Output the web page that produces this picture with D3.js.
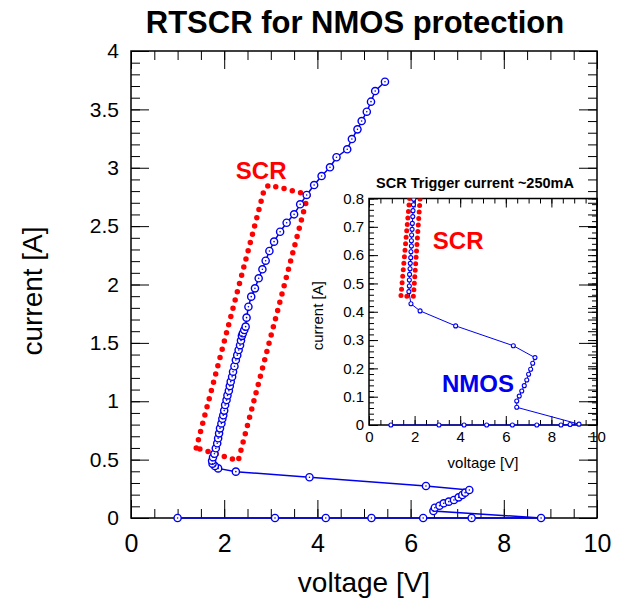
<!DOCTYPE html>
<html>
<head>
<meta charset="utf-8">
<script src="https://cdn.jsdelivr.net/npm/d3@7"></script>
<style>
body { margin: 0; background: #fff; }
text { font-family: "Liberation Sans", Arial, sans-serif; }
</style>
</head>
<body>
<div id="chart"></div>
<script>
// main TLP curve (voltage [V], current [A]), in measurement order
var mainV = [1.00, 3.09, 4.18, 5.16, 6.27, 7.31, 8.80,
	6.49, 6.52, 6.62, 6.71, 6.82, 6.93, 7.03, 7.11, 7.17, 7.26,
	6.33, 3.83, 2.25, 1.87, 1.80, 1.75, 1.74, 1.76, 1.79,
	1.82, 1.85, 1.87, 1.89, 1.91, 1.94, 1.96, 1.98, 2.00, 2.02, 2.05, 2.07, 2.10, 2.12,
	2.14, 2.17, 2.19, 2.22, 2.25, 2.28, 2.31, 2.34, 2.36, 2.38, 2.40, 2.43, 2.46,
	2.48, 2.52, 2.58, 2.66, 2.74, 2.82, 2.89, 2.97, 3.07, 3.20, 3.34, 3.50, 3.63, 3.77, 3.93, 4.09,
	4.27, 4.41, 4.64, 4.74, 4.86, 4.95, 5.06, 5.15, 5.24, 5.45];
var mainI = [0, 0, 0, 0, 0, 0, 0,
	0.060, 0.088, 0.105, 0.126, 0.140, 0.154, 0.177, 0.197, 0.217, 0.240,
	0.274, 0.349, 0.397, 0.425, 0.445, 0.465, 0.490, 0.520, 0.550,
	0.597, 0.640, 0.683, 0.725, 0.768, 0.810, 0.850, 0.880, 0.920, 0.968, 1.010, 1.050, 1.090, 1.130,
	1.168, 1.210, 1.253, 1.300, 1.353, 1.395, 1.439, 1.480, 1.520, 1.560, 1.582, 1.610, 1.639,
	1.716, 1.810, 1.896, 1.967, 2.053, 2.130, 2.204, 2.287, 2.367, 2.452, 2.529, 2.601, 2.687, 2.767, 2.852, 2.929,
	3.004, 3.090, 3.158, 3.246, 3.329, 3.400, 3.480, 3.566, 3.657, 3.737];

// red dotted SCR outline on main plot
var scrBoxV = [1.40, 2.85, 2.95, 3.20, 3.80, 2.30, 2.05, 1.40];
var scrBoxI = [0.60, 2.80, 2.85, 2.83, 2.77, 0.49, 0.52, 0.60];

// inset: zoom on the trigger region
var insetV = [0.96, 3.07, 4.17, 5.16, 6.29, 7.36, 8.42, 8.82, 9.21,
	6.48, 6.48, 6.59, 6.70, 6.81, 6.92, 7.00, 7.09, 7.18, 7.28,
	6.33, 3.80, 2.24, 1.84,
	1.75, 1.77, 1.77, 1.78, 1.80, 1.81, 1.83, 1.84, 1.86, 1.86, 1.87, 1.89, 1.90, 1.92, 1.93, 1.95, 1.96];
var insetI = [0, 0, 0, 0, 0, 0, 0, 0.002, 0.003,
	0.0625, 0.085, 0.102, 0.120, 0.139, 0.159, 0.179, 0.197, 0.218, 0.238,
	0.280, 0.350, 0.403, 0.428,
	0.471, 0.491, 0.512, 0.532, 0.552, 0.571, 0.591, 0.612, 0.632, 0.651, 0.671, 0.691, 0.712, 0.736, 0.757, 0.778, 0.797];

// red dotted SCR outline on inset (open at the top)
var insetBoxV = [1.78, 1.40, 1.95, 2.24];
var insetBoxI = [0.80, 0.455, 0.455, 0.80];

var mainXTicks = [0, 2, 4, 6, 8, 10];
var mainYTicks = [0, 0.5, 1, 1.5, 2, 2.5, 3, 3.5, 4];
var insetXTicks = [0, 2, 4, 6, 8, 10];
var insetYTicks = [0, 0.1, 0.2, 0.3, 0.4, 0.5, 0.6, 0.7, 0.8];

var width = 625, height = 600;
var blue = "#0000ee", red = "#ff0000";

var svg = d3.select("#chart").append("svg")
	.attr("width", width)
	.attr("height", height);

var fmt = function(d) { return String(+d.toFixed(2)); };

function frame(g, x, y, o) {
	var w = x.range()[1] - x.range()[0], h = y.range()[0] - y.range()[1];
	// minor ticks first, then major with labels
	g.append("g").attr("transform", "translate(0," + h + ")")
		.call(d3.axisBottom(x).tickValues(d3.range(x.domain()[0], x.domain()[1] + 1e-9, o.xMinor)).tickSize(-o.minorLen).tickFormat(""));
	g.append("g").call(d3.axisTop(x).tickValues(d3.range(x.domain()[0], x.domain()[1] + 1e-9, o.xMinor)).tickSize(-o.minorLen).tickFormat(""));
	g.append("g").call(d3.axisLeft(y).tickValues(d3.range(y.domain()[0], y.domain()[1] + 1e-9, o.yMinor)).tickSize(-o.minorLen).tickFormat(""));
	g.append("g").attr("transform", "translate(" + w + ",0)")
		.call(d3.axisRight(y).tickValues(d3.range(y.domain()[0], y.domain()[1] + 1e-9, o.yMinor)).tickSize(-o.minorLen).tickFormat(""));

	g.append("g").attr("class", "xl").attr("transform", "translate(0," + h + ")")
		.call(d3.axisBottom(x).tickValues(o.xTicks).tickSize(-o.majorLen).tickPadding(o.xPad).tickFormat(fmt));
	g.append("g").call(d3.axisTop(x).tickValues(o.xTicks).tickSize(-o.majorLen).tickFormat(""));
	g.append("g").attr("class", "yl")
		.call(d3.axisLeft(y).tickValues(o.yTicks).tickSize(-o.majorLen).tickPadding(o.yPad).tickFormat(fmt));
	g.append("g").attr("transform", "translate(" + w + ",0)")
		.call(d3.axisRight(y).tickValues(o.yTicks).tickSize(-o.majorLen).tickFormat(""));

	g.selectAll(".domain").remove();
	g.selectAll(".tick line").attr("stroke", "#000").attr("stroke-width", 1);
	g.selectAll(".xl text").style("font-size", o.xFont + "px").attr("fill", "#000");
	g.selectAll(".yl text").style("font-size", o.yFont + "px").attr("fill", "#000");

	g.append("rect").attr("width", w).attr("height", h)
		.attr("fill", "none").attr("stroke", "#000").attr("stroke-width", 1.5);
}

// ---------- main plot ----------
var x = d3.scaleLinear().domain([0, 10]).range([131, 597]);
var y = d3.scaleLinear().domain([0, 4]).range([518, 51]);

var gm = svg.append("g").attr("transform", "translate(" + x(0) + "," + y(4) + ")");
var xm = x.copy().range([0, x(10) - x(0)]);
var ym = y.copy().range([y(0) - y(4), 0]);

frame(gm, xm, ym, {xMinor: 0.5, yMinor: 0.1, minorLen: 9, majorLen: 18,
	xTicks: mainXTicks, yTicks: mainYTicks, xPad: 16, yPad: 12, xFont: 25, yFont: 21});

var mainPts = mainV.map(function(v, i) { return [v, mainI[i]]; });
var boxPts = scrBoxV.map(function(v, i) { return [v, scrBoxI[i]]; });

var line = d3.line().x(function(d) { return xm(d[0]); }).y(function(d) { return ym(d[1]); });

gm.append("path").datum(boxPts)
	.attr("d", line)
	.attr("fill", "none").attr("stroke", red).attr("stroke-width", 5.5)
	.attr("stroke-linecap", "round").attr("stroke-dasharray", "0 8.5");

gm.append("path").datum(mainPts)
	.attr("d", line)
	.attr("fill", "none").attr("stroke", blue).attr("stroke-width", 1.5);

gm.selectAll(".mk").data(mainPts).enter().append("circle")
	.attr("cx", function(d) { return xm(d[0]); })
	.attr("cy", function(d) { return ym(d[1]); })
	.attr("r", 3.6).attr("fill", "#fff").attr("stroke", blue).attr("stroke-width", 1.4);
gm.selectAll(".dot").data(mainPts).enter().append("circle")
	.attr("cx", function(d) { return xm(d[0]); })
	.attr("cy", function(d) { return ym(d[1]); })
	.attr("r", 0.8).attr("fill", blue);

gm.append("text").attr("x", xm(2.25)).attr("y", ym(2.9))
	.style("font-size", "24px").style("font-weight", "bold").attr("fill", red)
	.text("SCR");

// axis titles and title
svg.append("text").attr("x", 355).attr("y", 33).attr("text-anchor", "middle")
	.style("font-size", "31px").style("font-weight", "bold").text("RTSCR for NMOS protection");
svg.append("text").attr("x", (x(0) + x(10)) / 2).attr("y", 592).attr("text-anchor", "middle")
	.style("font-size", "28px").text("voltage [V]");
svg.append("text").attr("transform", "translate(42," + 291 + ") rotate(-90)").attr("text-anchor", "middle")
	.style("font-size", "28px").text("current [A]");

// ---------- inset ----------
var xi = d3.scaleLinear().domain([0, 10]).range([0, 597 - 369]);
var yi = d3.scaleLinear().domain([0, 0.8]).range([425 - 198.5, 0]);
var gi = svg.append("g").attr("transform", "translate(369,198.5)");

svg.append("defs").append("clipPath").attr("id", "clipInset")
	.append("rect").attr("x", -1).attr("y", 0).attr("width", xi.range()[1] + 2).attr("height", yi.range()[0] + 4);

frame(gi, xi, yi, {xMinor: 0.5, yMinor: 0.02, minorLen: 5, majorLen: 9,
	xTicks: insetXTicks, yTicks: insetYTicks, xPad: 6, yPad: 5, xFont: 15, yFont: 15});

var insetPts = insetV.map(function(v, i) { return [v, insetI[i]]; });
var insetBox = insetBoxV.map(function(v, i) { return [v, insetBoxI[i]]; });
var linei = d3.line().x(function(d) { return xi(d[0]); }).y(function(d) { return yi(d[1]); });

var gc = gi.append("g").attr("clip-path", "url(#clipInset)");
gc.append("path").datum(insetBox)
	.attr("d", linei)
	.attr("fill", "none").attr("stroke", red).attr("stroke-width", 5)
	.attr("stroke-linecap", "round").attr("stroke-dasharray", "0 6.5");
gc.append("path").datum(insetPts)
	.attr("d", linei)
	.attr("fill", "none").attr("stroke", blue).attr("stroke-width", 1);
gc.selectAll(".mk").data(insetPts).enter().append("circle")
	.attr("cx", function(d) { return xi(d[0]); })
	.attr("cy", function(d) { return yi(d[1]); })
	.attr("r", 2).attr("fill", "#fff").attr("stroke", blue).attr("stroke-width", 1.1);

gi.append("text").attr("x", (xi.range()[1]) / 2 - 8).attr("y", -11).attr("text-anchor", "middle")
	.style("font-size", "14.5px").style("font-weight", "bold").text("SCR Trigger current ~250mA");
gi.append("text").attr("x", xi(2.8)).attr("y", yi(0.62))
	.style("font-size", "24px").style("font-weight", "bold").attr("fill", red).text("SCR");
gi.append("text").attr("x", xi(3.2)).attr("y", yi(0.118))
	.style("font-size", "24px").style("font-weight", "bold").attr("fill", blue).text("NMOS");
gi.append("text").attr("x", xi.range()[1] / 2).attr("y", 269).attr("text-anchor", "middle")
	.style("font-size", "15px").text("voltage [V]");
gi.append("text").attr("transform", "translate(-46," + (yi.range()[0] / 2 + 4) + ") rotate(-90)")
	.attr("text-anchor", "middle").style("font-size", "15px").text("current [A]");
</script>
</body>
</html>
